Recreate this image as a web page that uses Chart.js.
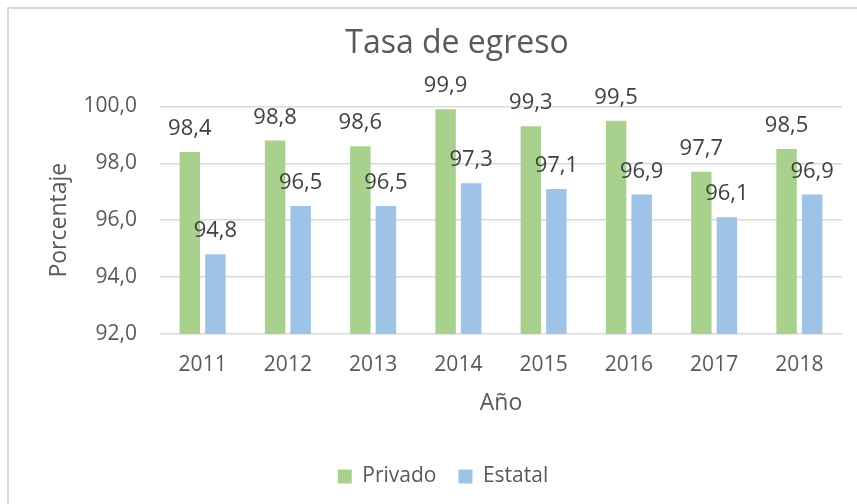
<!DOCTYPE html>
<html>
<head>
<meta charset="utf-8">
<script src="https://cdn.jsdelivr.net/npm/chart.js@4/dist/chart.umd.min.js"></script>
<style>
    html, body { margin: 0; padding: 0; background: #fff; overflow: hidden; }
    body { width: 857px; height: 504px; position: relative; overflow: hidden; }
    #frame {
        position: absolute; left: 7px; top: 7px; width: 900px; height: 540px;
        border-left: 2px solid #d9d9d9; border-top: 2px solid #d9d9d9;
    }
    #wrap { position: absolute; left: 10px; top: 9px; width: 885px; height: 496px; }
</style>
</head>
<body>
<div id="frame"></div>
<div id="wrap"><canvas id="chart"></canvas></div>
<script>
(function(window){
    var Chart = window.Chart;

    var years = ['2011', '2012', '2013', '2014', '2015', '2016', '2017', '2018'];
    var privado = [98.4, 98.8, 98.6, 99.9, 99.3, 99.5, 97.7, 98.5];
    var estatal = [94.8, 96.5, 96.5, 97.3, 97.1, 96.9, 96.1, 96.9];
    var yTicks = [92, 94, 96, 98, 100];

    var textColor = '#595959';
    var fontFamily = '"Open Sans", sans-serif';

    function comma(v, digits) {
        return v.toFixed(digits).replace('.', ',');
    }

    // value labels above each bar
    var barLabels = {
        id: 'barLabels',
        afterDatasetsDraw: function(chart) {
            var ctx = chart.ctx;
            ctx.save();
            ctx.font = '22px ' + fontFamily;
            ctx.fillStyle = '#404040';
            ctx.textAlign = 'center';
            ctx.textBaseline = 'alphabetic';
            chart.data.datasets.forEach(function(ds, i) {
                chart.getDatasetMeta(i).data.forEach(function(bar, j) {
                    ctx.fillText(comma(ds.data[j], 1), bar.x, bar.y - 17);
                });
            });
            ctx.restore();
        }
    };

    // the original has title and legend a bit off the canvas middle
    var nudge = {
        id: 'nudge',
        afterLayout: function(chart) {
            chart.titleBlock.left += 31;
            chart.titleBlock.right += 31;
            chart.legend.left += 17;
            chart.legend.right += 17;
            chart.legend.top += 27;
            chart.legend.bottom += 27;
        }
    };

    new Chart(document.getElementById('chart').getContext('2d'), {
        type: 'bar',
        data: {
            labels: years,
            datasets: [
                {
                    label: 'Privado',
                    data: privado,
                    backgroundColor: '#a9d18e',
                    categoryPercentage: 0.6,
                    barPercentage: 0.8
                },
                {
                    label: 'Estatal',
                    data: estatal,
                    backgroundColor: '#9dc3e6',
                    categoryPercentage: 0.6,
                    barPercentage: 0.8
                }
            ]
        },
        options: {
            responsive: true,
            maintainAspectRatio: false,
            animation: false,
            layout: { padding: { top: 0, right: 53, bottom: 35, left: 0 } },
            scales: {
                x: {
                    afterFit: function(scale) { scale.height = 83; },
                    grid: { display: false, drawTicks: false },
                    border: { display: false },
                    ticks: { color: textColor, font: { family: fontFamily, size: 21 }, padding: 18 },
                    title: {
                        display: true, text: 'Año', color: textColor,
                        font: { family: fontFamily, size: 23 },
                        padding: { top: 0, bottom: 0 }
                    }
                },
                y: {
                    min: 92,
                    max: 100,
                    afterFit: function(scale) { scale.width = 150; },
                    afterBuildTicks: function(scale) {
                        scale.ticks = yTicks.map(function(v) { return { value: v }; });
                    },
                    grid: { color: '#d9d9d9', lineWidth: 1.5, drawTicks: false },
                    border: { display: false },
                    ticks: {
                        color: textColor, padding: 23,
                        font: { family: fontFamily, size: 21 },
                        callback: function(v) { return comma(v, 1); }
                    },
                    title: {
                        display: true, text: 'Porcentaje', color: textColor,
                        font: { family: fontFamily, size: 23 },
                        padding: { top: 36, bottom: 0 }
                    }
                }
            },
            plugins: {
                title: {
                    display: true, text: 'Tasa de egreso', color: textColor,
                    font: { family: fontFamily, size: 32, weight: 'normal' },
                    padding: { top: 16, bottom: 43 }
                },
                legend: {
                    position: 'bottom',
                    labels: {
                        color: textColor, boxWidth: 14, boxHeight: 14,
                        font: { family: fontFamily, size: 21 }, padding: 22
                    }
                },
                tooltip: { enabled: false }
            }
        },
        plugins: [barLabels, nudge]
    });
})(window);
</script>
</body>
</html>
